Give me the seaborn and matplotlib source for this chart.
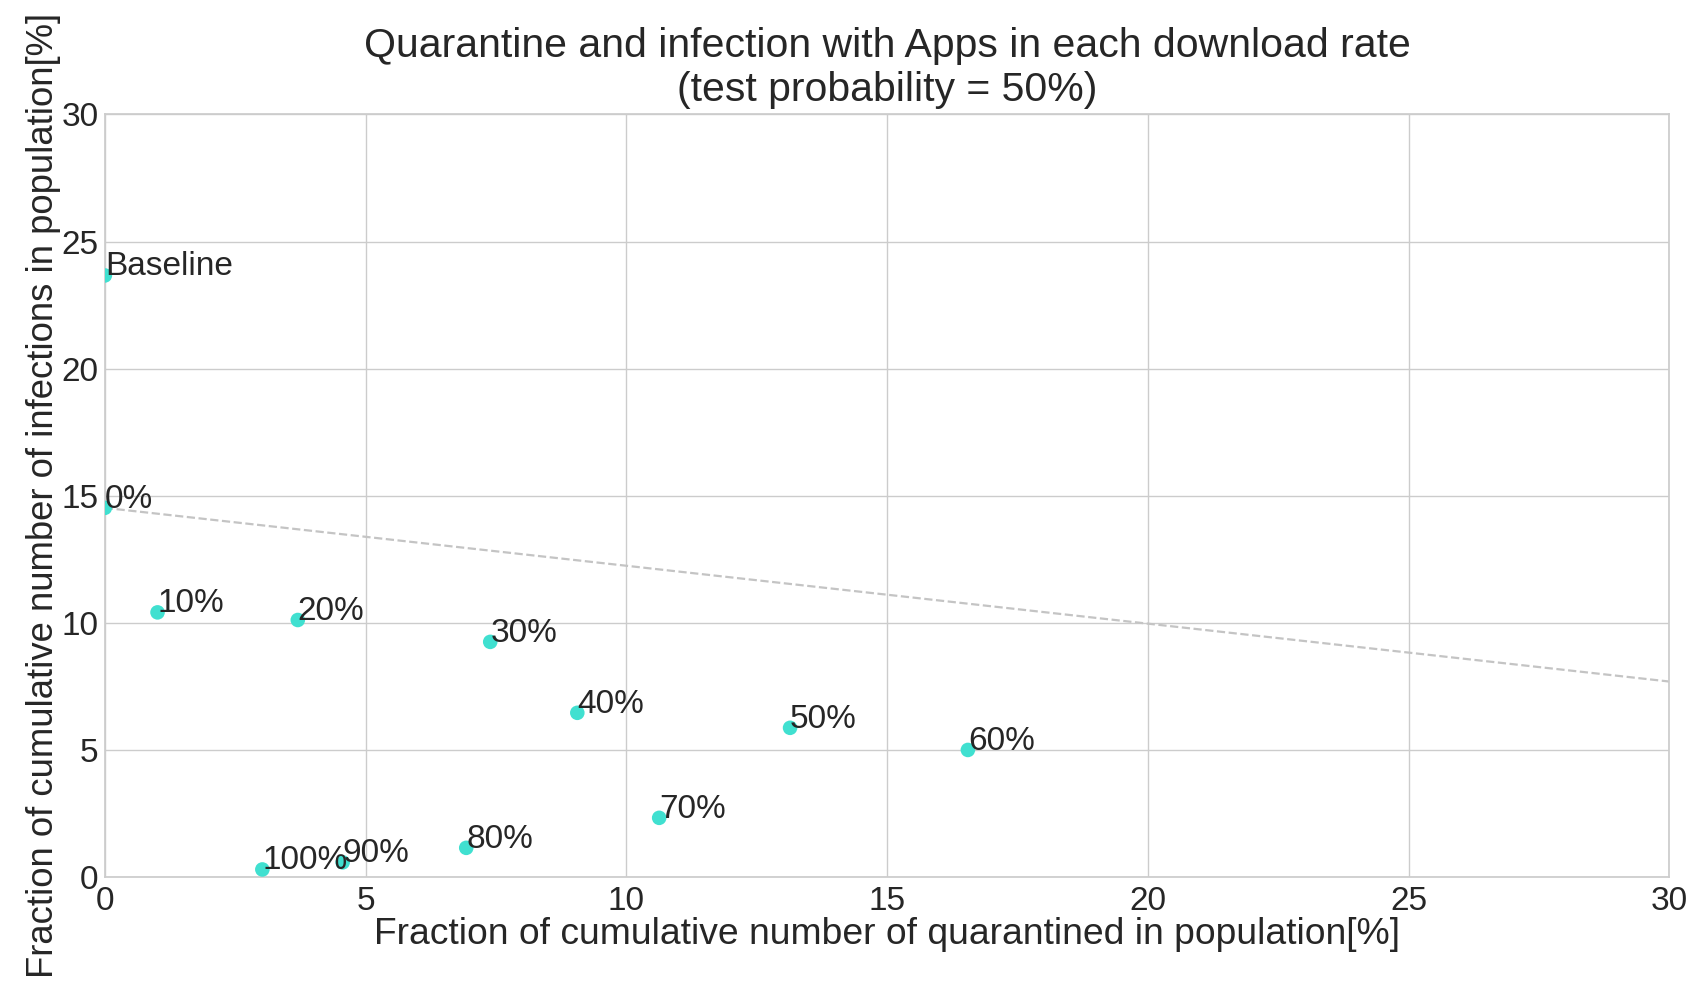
import matplotlib
matplotlib.use("Agg")
import matplotlib.pyplot as plt
import seaborn as sns
import pandas as pd

labels = ["Baseline", "0%", "10%", "20%", "30%", "40%", "50%",
          "60%", "70%", "80%", "90%", "100%"]
quarantined = [0.0, 0.0, 1.01, 3.70, 7.39, 9.06, 13.14,
               16.55, 10.63, 6.93, 4.56, 3.02]
infected = [23.67, 14.53, 10.42, 10.12, 9.26, 6.47, 5.88,
            5.01, 2.34, 1.16, 0.59, 0.31]

# reference line through the no-app point
ref_x = [0.0, 30.0]
ref_y = [14.53, 7.70]

sns.set_theme(style="whitegrid")
plt.rcParams["font.family"] = ["Liberation Sans", "DejaVu Sans"]

df = pd.DataFrame({"q": quarantined, "i": infected, "label": labels})

fig = plt.figure(figsize=(16.94, 9.86), dpi=100)
ax = fig.add_axes([0.0619, 0.1102, 0.9235, 0.7737])

sns.scatterplot(data=df, x="q", y="i", ax=ax, color="#40E0D0", s=110,
                edgecolor="none", zorder=3)
ax.plot(ref_x, ref_y, linestyle="--", color="#c4c4c4", linewidth=1.6, zorder=2)

for x, y, t in zip(quarantined, infected, labels):
    ax.text(x, y, t, fontsize=24, color="#262626")

ax.set_xlim(0, 30)
ax.set_ylim(0, 30)
ax.set_xticks(range(0, 31, 5))
ax.set_yticks(range(0, 31, 5))
ax.tick_params(axis="both", labelsize=24)
ax.tick_params(axis="y", pad=-1.5)
ax.tick_params(axis="x", pad=0)
for s in ax.spines.values():
    s.set_color("#cccccc")

ax.set_xlabel("Fraction of cumulative number of quarantined in population[%]",
              fontsize=26.8, labelpad=0)
ax.set_ylabel("Fraction of cumulative number of infections in population[%]",
              fontsize=26.3, labelpad=0)
ax.set_title("Quarantine and infection with Apps in each download rate\n"
             "(test probability = 50%)", fontsize=29.5, pad=10)

fig.savefig("out.png", dpi=100)
